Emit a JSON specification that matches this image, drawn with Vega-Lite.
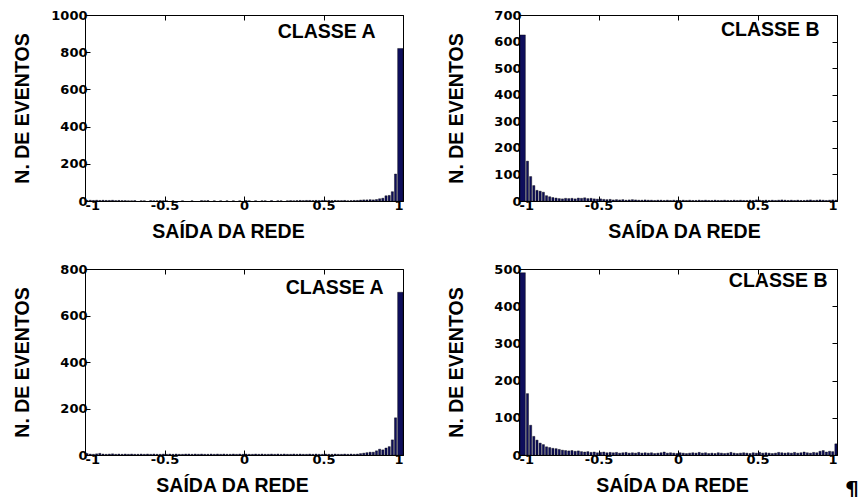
{
  "$schema": "https://vega.github.io/schema/vega-lite/v6.json",
  "background": "white",
  "padding": {"left": 11, "top": 8, "right": 4, "bottom": 2},
  "columns": 2,
  "spacing": {"row": 21, "column": 41},
  "config": {
    "view": {"stroke": "black", "strokeWidth": 1},
    "axis": {
      "grid": false,
      "domain": false,
      "tickColor": "black",
      "tickSize": -5,
      "labelFont": "DejaVu Sans",
      "labelFontWeight": "bold",
      "labelFontSize": 13,
      "labelColor": "black",
      "labelPadding": 3,
      "titleFont": "Liberation Sans",
      "titleFontWeight": "bold",
      "titleFontSize": 19.5,
      "titleColor": "black"
    },
    "axisLeft": {"minExtent": 38, "maxExtent": 38, "titlePadding": 15, "format": "d"},
    "axisRight": {"minExtent": 0, "maxExtent": 0},
    "axisTop": {"minExtent": 0, "maxExtent": 0},
    "axisBottom": {"titlePadding": 10},
    "bar": {"fill": "#0e0e5c", "stroke": "black", "strokeWidth": 0.4},
    "text": {"font": "Liberation Sans", "fontWeight": "bold", "fontSize": 19.5, "color": "black", "baseline": "alphabetic", "align": "center"}
  },
  "datasets": {
    "classeA1": [
      {"lo": -1, "hi": -0.98, "n": 3}, {"lo": -0.98, "hi": -0.96, "n": 4}, {"lo": -0.96, "hi": -0.94, "n": 3},
      {"lo": -0.94, "hi": -0.92, "n": 4}, {"lo": -0.92, "hi": -0.9, "n": 3}, {"lo": -0.9, "hi": -0.88, "n": 4},
      {"lo": -0.88, "hi": -0.86, "n": 3}, {"lo": -0.86, "hi": -0.84, "n": 3}, {"lo": -0.84, "hi": -0.82, "n": 4},
      {"lo": -0.82, "hi": -0.8, "n": 2}, {"lo": -0.8, "hi": -0.78, "n": 3}, {"lo": -0.78, "hi": -0.76, "n": 2},
      {"lo": -0.76, "hi": -0.74, "n": 2}, {"lo": -0.74, "hi": -0.72, "n": 1}, {"lo": -0.72, "hi": -0.7, "n": 1},
      {"lo": -0.7, "hi": -0.68, "n": 2}, {"lo": -0.66, "hi": -0.64, "n": 1}, {"lo": -0.64, "hi": -0.62, "n": 1},
      {"lo": -0.6, "hi": -0.58, "n": 2}, {"lo": -0.58, "hi": -0.56, "n": 1}, {"lo": -0.56, "hi": -0.54, "n": 1},
      {"lo": -0.54, "hi": -0.52, "n": 2}, {"lo": -0.52, "hi": -0.5, "n": 1}, {"lo": -0.5, "hi": -0.48, "n": 1},
      {"lo": -0.46, "hi": -0.44, "n": 1}, {"lo": -0.4, "hi": -0.38, "n": 1}, {"lo": -0.34, "hi": -0.32, "n": 1},
      {"lo": -0.28, "hi": -0.26, "n": 2}, {"lo": -0.26, "hi": -0.24, "n": 1}, {"lo": -0.24, "hi": -0.22, "n": 2},
      {"lo": -0.2, "hi": -0.18, "n": 1}, {"lo": -0.16, "hi": -0.14, "n": 1}, {"lo": -0.12, "hi": -0.1, "n": 1},
      {"lo": -0.08, "hi": -0.06, "n": 1}, {"lo": -0.04, "hi": -0.02, "n": 1}, {"lo": 0, "hi": 0.02, "n": 2},
      {"lo": 0.02, "hi": 0.04, "n": 1}, {"lo": 0.06, "hi": 0.08, "n": 1}, {"lo": 0.1, "hi": 0.12, "n": 1},
      {"lo": 0.12, "hi": 0.14, "n": 1}, {"lo": 0.16, "hi": 0.18, "n": 2}, {"lo": 0.2, "hi": 0.22, "n": 1},
      {"lo": 0.22, "hi": 0.24, "n": 1}, {"lo": 0.26, "hi": 0.28, "n": 1}, {"lo": 0.28, "hi": 0.3, "n": 2},
      {"lo": 0.3, "hi": 0.32, "n": 1}, {"lo": 0.32, "hi": 0.34, "n": 2}, {"lo": 0.34, "hi": 0.36, "n": 3},
      {"lo": 0.36, "hi": 0.38, "n": 2}, {"lo": 0.38, "hi": 0.4, "n": 3}, {"lo": 0.4, "hi": 0.42, "n": 3},
      {"lo": 0.42, "hi": 0.44, "n": 2}, {"lo": 0.44, "hi": 0.46, "n": 3}, {"lo": 0.46, "hi": 0.48, "n": 2},
      {"lo": 0.48, "hi": 0.5, "n": 3}, {"lo": 0.5, "hi": 0.52, "n": 2}, {"lo": 0.52, "hi": 0.54, "n": 3},
      {"lo": 0.54, "hi": 0.56, "n": 2}, {"lo": 0.56, "hi": 0.58, "n": 3}, {"lo": 0.58, "hi": 0.6, "n": 2},
      {"lo": 0.6, "hi": 0.62, "n": 2}, {"lo": 0.62, "hi": 0.64, "n": 3}, {"lo": 0.64, "hi": 0.66, "n": 1},
      {"lo": 0.66, "hi": 0.68, "n": 2}, {"lo": 0.68, "hi": 0.7, "n": 3}, {"lo": 0.7, "hi": 0.72, "n": 3},
      {"lo": 0.72, "hi": 0.74, "n": 5}, {"lo": 0.74, "hi": 0.76, "n": 6}, {"lo": 0.76, "hi": 0.78, "n": 6},
      {"lo": 0.78, "hi": 0.8, "n": 7}, {"lo": 0.8, "hi": 0.82, "n": 6}, {"lo": 0.82, "hi": 0.84, "n": 8},
      {"lo": 0.84, "hi": 0.86, "n": 12}, {"lo": 0.86, "hi": 0.88, "n": 15}, {"lo": 0.88, "hi": 0.9, "n": 28},
      {"lo": 0.9, "hi": 0.92, "n": 30}, {"lo": 0.92, "hi": 0.94, "n": 50}, {"lo": 0.94, "hi": 0.96, "n": 145},
      {"lo": 0.96, "hi": 1, "n": 820}
    ],
    "classeB1": [
      {"lo": -1, "hi": -0.96, "n": 625}, {"lo": -0.96, "hi": -0.94, "n": 150}, {"lo": -0.94, "hi": -0.92, "n": 92},
      {"lo": -0.92, "hi": -0.9, "n": 58}, {"lo": -0.9, "hi": -0.88, "n": 40}, {"lo": -0.88, "hi": -0.86, "n": 37},
      {"lo": -0.86, "hi": -0.84, "n": 33}, {"lo": -0.84, "hi": -0.82, "n": 20}, {"lo": -0.82, "hi": -0.8, "n": 16},
      {"lo": -0.8, "hi": -0.78, "n": 13}, {"lo": -0.78, "hi": -0.76, "n": 11},
      {"lo": -0.76, "hi": -0.74, "n": 9}, {"lo": -0.74, "hi": -0.72, "n": 8}, {"lo": -0.72, "hi": -0.7, "n": 10},
      {"lo": -0.7, "hi": -0.68, "n": 9}, {"lo": -0.68, "hi": -0.66, "n": 10}, {"lo": -0.66, "hi": -0.64, "n": 8},
      {"lo": -0.64, "hi": -0.62, "n": 11}, {"lo": -0.62, "hi": -0.6, "n": 10}, {"lo": -0.6, "hi": -0.58, "n": 12},
      {"lo": -0.58, "hi": -0.56, "n": 9}, {"lo": -0.56, "hi": -0.54, "n": 10}, {"lo": -0.54, "hi": -0.52, "n": 8},
      {"lo": -0.52, "hi": -0.5, "n": 7}, {"lo": -0.5, "hi": -0.48, "n": 8}, {"lo": -0.48, "hi": -0.46, "n": 6},
      {"lo": -0.46, "hi": -0.44, "n": 5}, {"lo": -0.44, "hi": -0.42, "n": 6}, {"lo": -0.42, "hi": -0.4, "n": 4},
      {"lo": -0.4, "hi": -0.38, "n": 5}, {"lo": -0.38, "hi": -0.36, "n": 4}, {"lo": -0.36, "hi": -0.34, "n": 5},
      {"lo": -0.34, "hi": -0.32, "n": 3}, {"lo": -0.32, "hi": -0.3, "n": 4}, {"lo": -0.3, "hi": -0.28, "n": 5},
      {"lo": -0.28, "hi": -0.26, "n": 4}, {"lo": -0.26, "hi": -0.24, "n": 3}, {"lo": -0.24, "hi": -0.22, "n": 3},
      {"lo": -0.22, "hi": -0.2, "n": 4}, {"lo": -0.2, "hi": -0.18, "n": 3}, {"lo": -0.18, "hi": -0.16, "n": 3},
      {"lo": -0.16, "hi": -0.14, "n": 2}, {"lo": -0.14, "hi": -0.12, "n": 3}, {"lo": -0.12, "hi": -0.1, "n": 3},
      {"lo": -0.1, "hi": -0.08, "n": 2}, {"lo": -0.08, "hi": -0.06, "n": 3}, {"lo": -0.06, "hi": -0.04, "n": 2},
      {"lo": -0.04, "hi": -0.02, "n": 3}, {"lo": -0.02, "hi": 0, "n": 2}, {"lo": 0, "hi": 0.02, "n": 2},
      {"lo": 0.02, "hi": 0.04, "n": 3}, {"lo": 0.04, "hi": 0.06, "n": 2}, {"lo": 0.06, "hi": 0.08, "n": 3},
      {"lo": 0.08, "hi": 0.1, "n": 2}, {"lo": 0.1, "hi": 0.12, "n": 2}, {"lo": 0.12, "hi": 0.14, "n": 3},
      {"lo": 0.14, "hi": 0.16, "n": 2}, {"lo": 0.16, "hi": 0.18, "n": 3}, {"lo": 0.18, "hi": 0.2, "n": 2},
      {"lo": 0.2, "hi": 0.22, "n": 2}, {"lo": 0.22, "hi": 0.24, "n": 3}, {"lo": 0.24, "hi": 0.26, "n": 2},
      {"lo": 0.26, "hi": 0.28, "n": 2}, {"lo": 0.28, "hi": 0.3, "n": 3}, {"lo": 0.3, "hi": 0.32, "n": 2},
      {"lo": 0.32, "hi": 0.34, "n": 2}, {"lo": 0.34, "hi": 0.36, "n": 3}, {"lo": 0.36, "hi": 0.38, "n": 2},
      {"lo": 0.38, "hi": 0.4, "n": 3}, {"lo": 0.4, "hi": 0.42, "n": 2}, {"lo": 0.42, "hi": 0.44, "n": 2},
      {"lo": 0.44, "hi": 0.46, "n": 3}, {"lo": 0.46, "hi": 0.48, "n": 2}, {"lo": 0.48, "hi": 0.5, "n": 4},
      {"lo": 0.5, "hi": 0.52, "n": 3}, {"lo": 0.52, "hi": 0.54, "n": 2}, {"lo": 0.54, "hi": 0.56, "n": 3},
      {"lo": 0.56, "hi": 0.58, "n": 2}, {"lo": 0.58, "hi": 0.6, "n": 3}, {"lo": 0.6, "hi": 0.62, "n": 2},
      {"lo": 0.62, "hi": 0.64, "n": 3}, {"lo": 0.64, "hi": 0.66, "n": 4}, {"lo": 0.66, "hi": 0.68, "n": 3},
      {"lo": 0.68, "hi": 0.7, "n": 2}, {"lo": 0.7, "hi": 0.72, "n": 3}, {"lo": 0.72, "hi": 0.74, "n": 2},
      {"lo": 0.74, "hi": 0.76, "n": 3}, {"lo": 0.76, "hi": 0.78, "n": 2}, {"lo": 0.78, "hi": 0.8, "n": 2},
      {"lo": 0.8, "hi": 0.82, "n": 3}, {"lo": 0.82, "hi": 0.84, "n": 4}, {"lo": 0.84, "hi": 0.86, "n": 2},
      {"lo": 0.86, "hi": 0.88, "n": 3}, {"lo": 0.88, "hi": 0.9, "n": 4}, {"lo": 0.9, "hi": 0.92, "n": 3},
      {"lo": 0.92, "hi": 0.94, "n": 2}, {"lo": 0.94, "hi": 0.96, "n": 3}, {"lo": 0.96, "hi": 0.98, "n": 4},
      {"lo": 0.98, "hi": 1, "n": 3}
    ],
    "classeA2": [
      {"lo": -1, "hi": -0.98, "n": 6}, {"lo": -0.98, "hi": -0.96, "n": 4}, {"lo": -0.96, "hi": -0.94, "n": 3},
      {"lo": -0.94, "hi": -0.92, "n": 5}, {"lo": -0.92, "hi": -0.9, "n": 7}, {"lo": -0.9, "hi": -0.88, "n": 4},
      {"lo": -0.88, "hi": -0.86, "n": 3}, {"lo": -0.86, "hi": -0.84, "n": 4}, {"lo": -0.84, "hi": -0.82, "n": 5},
      {"lo": -0.82, "hi": -0.8, "n": 3}, {"lo": -0.8, "hi": -0.78, "n": 4}, {"lo": -0.78, "hi": -0.76, "n": 3},
      {"lo": -0.76, "hi": -0.74, "n": 4}, {"lo": -0.74, "hi": -0.72, "n": 3}, {"lo": -0.72, "hi": -0.7, "n": 4},
      {"lo": -0.7, "hi": -0.68, "n": 3}, {"lo": -0.68, "hi": -0.66, "n": 3}, {"lo": -0.66, "hi": -0.64, "n": 4},
      {"lo": -0.64, "hi": -0.62, "n": 3}, {"lo": -0.62, "hi": -0.6, "n": 4}, {"lo": -0.6, "hi": -0.58, "n": 3},
      {"lo": -0.58, "hi": -0.56, "n": 4}, {"lo": -0.56, "hi": -0.54, "n": 3}, {"lo": -0.54, "hi": -0.52, "n": 3},
      {"lo": -0.52, "hi": -0.5, "n": 4}, {"lo": -0.5, "hi": -0.48, "n": 3}, {"lo": -0.48, "hi": -0.46, "n": 4},
      {"lo": -0.46, "hi": -0.44, "n": 3}, {"lo": -0.44, "hi": -0.42, "n": 4}, {"lo": -0.42, "hi": -0.4, "n": 3},
      {"lo": -0.4, "hi": -0.38, "n": 3}, {"lo": -0.38, "hi": -0.36, "n": 4}, {"lo": -0.36, "hi": -0.34, "n": 4},
      {"lo": -0.34, "hi": -0.32, "n": 3}, {"lo": -0.32, "hi": -0.3, "n": 4}, {"lo": -0.3, "hi": -0.28, "n": 3},
      {"lo": -0.28, "hi": -0.26, "n": 4}, {"lo": -0.26, "hi": -0.24, "n": 3}, {"lo": -0.24, "hi": -0.22, "n": 3},
      {"lo": -0.22, "hi": -0.2, "n": 4}, {"lo": -0.2, "hi": -0.18, "n": 3}, {"lo": -0.18, "hi": -0.16, "n": 4},
      {"lo": -0.16, "hi": -0.14, "n": 3}, {"lo": -0.14, "hi": -0.12, "n": 4}, {"lo": -0.12, "hi": -0.1, "n": 3},
      {"lo": -0.1, "hi": -0.08, "n": 3}, {"lo": -0.08, "hi": -0.06, "n": 4}, {"lo": -0.06, "hi": -0.04, "n": 3},
      {"lo": -0.04, "hi": -0.02, "n": 4}, {"lo": -0.02, "hi": 0, "n": 3}, {"lo": 0, "hi": 0.02, "n": 4},
      {"lo": 0.02, "hi": 0.04, "n": 3}, {"lo": 0.04, "hi": 0.06, "n": 3}, {"lo": 0.06, "hi": 0.08, "n": 4},
      {"lo": 0.08, "hi": 0.1, "n": 3}, {"lo": 0.1, "hi": 0.12, "n": 4}, {"lo": 0.12, "hi": 0.14, "n": 3},
      {"lo": 0.14, "hi": 0.16, "n": 3}, {"lo": 0.16, "hi": 0.18, "n": 4}, {"lo": 0.18, "hi": 0.2, "n": 3},
      {"lo": 0.2, "hi": 0.22, "n": 4}, {"lo": 0.22, "hi": 0.24, "n": 3}, {"lo": 0.24, "hi": 0.26, "n": 4},
      {"lo": 0.26, "hi": 0.28, "n": 3}, {"lo": 0.28, "hi": 0.3, "n": 3}, {"lo": 0.3, "hi": 0.32, "n": 4},
      {"lo": 0.32, "hi": 0.34, "n": 3}, {"lo": 0.34, "hi": 0.36, "n": 4}, {"lo": 0.36, "hi": 0.38, "n": 3},
      {"lo": 0.38, "hi": 0.4, "n": 3}, {"lo": 0.4, "hi": 0.42, "n": 4}, {"lo": 0.42, "hi": 0.44, "n": 3},
      {"lo": 0.44, "hi": 0.46, "n": 4}, {"lo": 0.46, "hi": 0.48, "n": 3}, {"lo": 0.48, "hi": 0.5, "n": 3},
      {"lo": 0.5, "hi": 0.52, "n": 4}, {"lo": 0.52, "hi": 0.54, "n": 3}, {"lo": 0.54, "hi": 0.56, "n": 3},
      {"lo": 0.56, "hi": 0.58, "n": 4}, {"lo": 0.58, "hi": 0.6, "n": 3}, {"lo": 0.6, "hi": 0.62, "n": 3},
      {"lo": 0.62, "hi": 0.64, "n": 4}, {"lo": 0.64, "hi": 0.66, "n": 3}, {"lo": 0.66, "hi": 0.68, "n": 4},
      {"lo": 0.68, "hi": 0.7, "n": 3}, {"lo": 0.7, "hi": 0.72, "n": 4}, {"lo": 0.72, "hi": 0.74, "n": 6},
      {"lo": 0.74, "hi": 0.76, "n": 8}, {"lo": 0.76, "hi": 0.78, "n": 10}, {"lo": 0.78, "hi": 0.8, "n": 12},
      {"lo": 0.8, "hi": 0.82, "n": 12}, {"lo": 0.82, "hi": 0.84, "n": 18}, {"lo": 0.84, "hi": 0.86, "n": 25},
      {"lo": 0.86, "hi": 0.88, "n": 22}, {"lo": 0.88, "hi": 0.9, "n": 30}, {"lo": 0.9, "hi": 0.92, "n": 36},
      {"lo": 0.92, "hi": 0.94, "n": 65}, {"lo": 0.94, "hi": 0.96, "n": 160}, {"lo": 0.96, "hi": 1, "n": 700}
    ],
    "classeB2": [
      {"lo": -1, "hi": -0.96, "n": 490}, {"lo": -0.96, "hi": -0.94, "n": 165}, {"lo": -0.94, "hi": -0.92, "n": 80},
      {"lo": -0.92, "hi": -0.9, "n": 50}, {"lo": -0.9, "hi": -0.88, "n": 40}, {"lo": -0.88, "hi": -0.86, "n": 32},
      {"lo": -0.86, "hi": -0.84, "n": 28}, {"lo": -0.84, "hi": -0.82, "n": 22}, {"lo": -0.82, "hi": -0.8, "n": 20},
      {"lo": -0.8, "hi": -0.78, "n": 18}, {"lo": -0.78, "hi": -0.76, "n": 17}, {"lo": -0.76, "hi": -0.74, "n": 15},
      {"lo": -0.74, "hi": -0.72, "n": 13}, {"lo": -0.72, "hi": -0.7, "n": 12},
      {"lo": -0.7, "hi": -0.68, "n": 11}, {"lo": -0.68, "hi": -0.66, "n": 12}, {"lo": -0.66, "hi": -0.64, "n": 10},
      {"lo": -0.64, "hi": -0.62, "n": 11}, {"lo": -0.62, "hi": -0.6, "n": 9}, {"lo": -0.6, "hi": -0.58, "n": 8},
      {"lo": -0.58, "hi": -0.56, "n": 9}, {"lo": -0.56, "hi": -0.54, "n": 7}, {"lo": -0.54, "hi": -0.52, "n": 8},
      {"lo": -0.52, "hi": -0.5, "n": 6}, {"lo": -0.5, "hi": -0.48, "n": 7}, {"lo": -0.48, "hi": -0.46, "n": 8},
      {"lo": -0.46, "hi": -0.44, "n": 6}, {"lo": -0.44, "hi": -0.42, "n": 7}, {"lo": -0.42, "hi": -0.4, "n": 6},
      {"lo": -0.4, "hi": -0.38, "n": 7}, {"lo": -0.38, "hi": -0.36, "n": 5}, {"lo": -0.36, "hi": -0.34, "n": 6},
      {"lo": -0.34, "hi": -0.32, "n": 7}, {"lo": -0.32, "hi": -0.3, "n": 5}, {"lo": -0.3, "hi": -0.28, "n": 6},
      {"lo": -0.28, "hi": -0.26, "n": 5}, {"lo": -0.26, "hi": -0.24, "n": 7}, {"lo": -0.24, "hi": -0.22, "n": 5},
      {"lo": -0.22, "hi": -0.2, "n": 6}, {"lo": -0.2, "hi": -0.18, "n": 5}, {"lo": -0.18, "hi": -0.16, "n": 6},
      {"lo": -0.16, "hi": -0.14, "n": 4}, {"lo": -0.14, "hi": -0.12, "n": 5}, {"lo": -0.12, "hi": -0.1, "n": 6},
      {"lo": -0.1, "hi": -0.08, "n": 8}, {"lo": -0.08, "hi": -0.06, "n": 5}, {"lo": -0.06, "hi": -0.04, "n": 6},
      {"lo": -0.04, "hi": -0.02, "n": 5}, {"lo": -0.02, "hi": 0, "n": 4}, {"lo": 0, "hi": 0.02, "n": 6},
      {"lo": 0.02, "hi": 0.04, "n": 5}, {"lo": 0.04, "hi": 0.06, "n": 4}, {"lo": 0.06, "hi": 0.08, "n": 5},
      {"lo": 0.08, "hi": 0.1, "n": 6}, {"lo": 0.1, "hi": 0.12, "n": 5}, {"lo": 0.12, "hi": 0.14, "n": 7},
      {"lo": 0.14, "hi": 0.16, "n": 5}, {"lo": 0.16, "hi": 0.18, "n": 6}, {"lo": 0.18, "hi": 0.2, "n": 4},
      {"lo": 0.2, "hi": 0.22, "n": 5}, {"lo": 0.22, "hi": 0.24, "n": 4}, {"lo": 0.24, "hi": 0.26, "n": 6},
      {"lo": 0.26, "hi": 0.28, "n": 5}, {"lo": 0.28, "hi": 0.3, "n": 4}, {"lo": 0.3, "hi": 0.32, "n": 5},
      {"lo": 0.32, "hi": 0.34, "n": 7}, {"lo": 0.34, "hi": 0.36, "n": 5}, {"lo": 0.36, "hi": 0.38, "n": 4},
      {"lo": 0.38, "hi": 0.4, "n": 5}, {"lo": 0.4, "hi": 0.42, "n": 6}, {"lo": 0.42, "hi": 0.44, "n": 5},
      {"lo": 0.44, "hi": 0.46, "n": 4}, {"lo": 0.46, "hi": 0.48, "n": 6}, {"lo": 0.48, "hi": 0.5, "n": 5},
      {"lo": 0.5, "hi": 0.52, "n": 7}, {"lo": 0.52, "hi": 0.54, "n": 5}, {"lo": 0.54, "hi": 0.56, "n": 6},
      {"lo": 0.56, "hi": 0.58, "n": 5}, {"lo": 0.58, "hi": 0.6, "n": 4}, {"lo": 0.6, "hi": 0.62, "n": 5},
      {"lo": 0.62, "hi": 0.64, "n": 7}, {"lo": 0.64, "hi": 0.66, "n": 6}, {"lo": 0.66, "hi": 0.68, "n": 5},
      {"lo": 0.68, "hi": 0.7, "n": 6}, {"lo": 0.7, "hi": 0.72, "n": 5}, {"lo": 0.72, "hi": 0.74, "n": 7},
      {"lo": 0.74, "hi": 0.76, "n": 5}, {"lo": 0.76, "hi": 0.78, "n": 6}, {"lo": 0.78, "hi": 0.8, "n": 8},
      {"lo": 0.8, "hi": 0.82, "n": 6}, {"lo": 0.82, "hi": 0.84, "n": 5}, {"lo": 0.84, "hi": 0.86, "n": 7},
      {"lo": 0.86, "hi": 0.88, "n": 6}, {"lo": 0.88, "hi": 0.9, "n": 10}, {"lo": 0.9, "hi": 0.92, "n": 12},
      {"lo": 0.92, "hi": 0.94, "n": 8}, {"lo": 0.94, "hi": 0.96, "n": 10}, {"lo": 0.96, "hi": 0.98, "n": 9},
      {"lo": 0.98, "hi": 1, "n": 30}
    ],
    "label": [{"label": "one"}]
  },
  "concat": [
    {
      "width": 318, "height": 186,
      "resolve": {"axis": {"x": "independent", "y": "independent"}},
      "layer": [
        {
          "data": {"name": "classeA1"},
          "mark": "bar",
          "encoding": {
            "x": {"field": "lo", "type": "quantitative", "bin": {"binned": true}, "scale": {"domain": [-1, 1], "nice": false},
                  "axis": {"values": [-1, -0.5, 0, 0.5, 1], "labelExpr": "'' + datum.value", "title": "SAÍDA DA REDE", "titleX": 143}},
            "x2": {"field": "hi"},
            "y": {"field": "n", "type": "quantitative", "scale": {"domain": [0, 1000], "nice": false},
                  "axis": {"values": [0, 200, 400, 600, 800, 1000], "title": "N. DE EVENTOS"}}
          }
        },
        {
          "data": {"name": "label"},
          "mark": "text",
          "encoding": {
            "x": {"datum": 0.52, "type": "quantitative", "axis": {"orient": "top", "values": [-1, -0.5, 0, 0.5, 1], "labels": false, "title": null}},
            "y": {"datum": 876, "type": "quantitative", "axis": {"orient": "right", "values": [0, 200, 400, 600, 800, 1000], "labels": false, "title": null}},
            "text": {"value": "CLASSE A"}
          }
        }
      ]
    },
    {
      "width": 318, "height": 186,
      "resolve": {"axis": {"x": "independent", "y": "independent"}},
      "layer": [
        {
          "data": {"name": "classeB1"},
          "mark": "bar",
          "encoding": {
            "x": {"field": "lo", "type": "quantitative", "bin": {"binned": true}, "scale": {"domain": [-1, 1], "nice": false},
                  "axis": {"values": [-1, -0.5, 0, 0.5, 1], "labelExpr": "'' + datum.value", "title": "SAÍDA DA REDE", "titleX": 165}},
            "x2": {"field": "hi"},
            "y": {"field": "n", "type": "quantitative", "scale": {"domain": [0, 700], "nice": false},
                  "axis": {"values": [0, 100, 200, 300, 400, 500, 600, 700], "title": "N. DE EVENTOS"}}
          }
        },
        {
          "data": {"name": "label"},
          "mark": "text",
          "encoding": {
            "x": {"datum": 0.58, "type": "quantitative", "axis": {"orient": "top", "values": [-1, -0.5, 0, 0.5, 1], "labels": false, "title": null}},
            "y": {"datum": 621, "type": "quantitative", "axis": {"orient": "right", "values": [0, 100, 200, 300, 400, 500, 600, 700], "labels": false, "title": null}},
            "text": {"value": "CLASSE B"}
          }
        }
      ]
    },
    {
      "width": 318, "height": 186,
      "resolve": {"axis": {"x": "independent", "y": "independent"}},
      "layer": [
        {
          "data": {"name": "classeA2"},
          "mark": "bar",
          "encoding": {
            "x": {"field": "lo", "type": "quantitative", "bin": {"binned": true}, "scale": {"domain": [-1, 1], "nice": false},
                  "axis": {"values": [-1, -0.5, 0, 0.5, 1], "labelExpr": "'' + datum.value", "title": "SAÍDA DA REDE", "titleX": 147}},
            "x2": {"field": "hi"},
            "y": {"field": "n", "type": "quantitative", "scale": {"domain": [0, 800], "nice": false},
                  "axis": {"values": [0, 200, 400, 600, 800], "title": "N. DE EVENTOS"}}
          }
        },
        {
          "data": {"name": "label"},
          "mark": "text",
          "encoding": {
            "x": {"datum": 0.57, "type": "quantitative", "axis": {"orient": "top", "values": [-1, -0.5, 0, 0.5, 1], "labels": false, "title": null}},
            "y": {"datum": 694, "type": "quantitative", "axis": {"orient": "right", "values": [0, 200, 400, 600, 800], "labels": false, "title": null}},
            "text": {"value": "CLASSE A"}
          }
        }
      ]
    },
    {
      "width": 318, "height": 186,
      "resolve": {"axis": {"x": "independent", "y": "independent"}},
      "layer": [
        {
          "data": {"name": "classeB2"},
          "mark": "bar",
          "encoding": {
            "x": {"field": "lo", "type": "quantitative", "bin": {"binned": true}, "scale": {"domain": [-1, 1], "nice": false},
                  "axis": {"values": [-1, -0.5, 0, 0.5, 1], "labelExpr": "'' + datum.value", "title": "SAÍDA DA REDE", "titleX": 153}},
            "x2": {"field": "hi"},
            "y": {"field": "n", "type": "quantitative", "scale": {"domain": [0, 500], "nice": false},
                  "axis": {"values": [0, 100, 200, 300, 400, 500], "title": "N. DE EVENTOS"}}
          }
        },
        {
          "data": {"name": "label"},
          "mark": "text",
          "encoding": {
            "x": {"datum": 0.63, "type": "quantitative", "axis": {"orient": "top", "values": [-1, -0.5, 0, 0.5, 1], "labels": false, "title": null}},
            "y": {"datum": 452, "type": "quantitative", "axis": {"orient": "right", "values": [0, 100, 200, 300, 400, 500], "labels": false, "title": null}},
            "text": {"value": "CLASSE B"}
          }
        },
        {
          "data": {"name": "label"},
          "mark": {"type": "text", "clip": false, "font": "DejaVu Sans", "fontSize": 22},
          "encoding": {
            "x": {"datum": 1.095, "type": "quantitative", "axis": null},
            "y": {"datum": -112, "type": "quantitative", "axis": null},
            "text": {"value": "¶"}
          }
        }
      ]
    }
  ]
}
